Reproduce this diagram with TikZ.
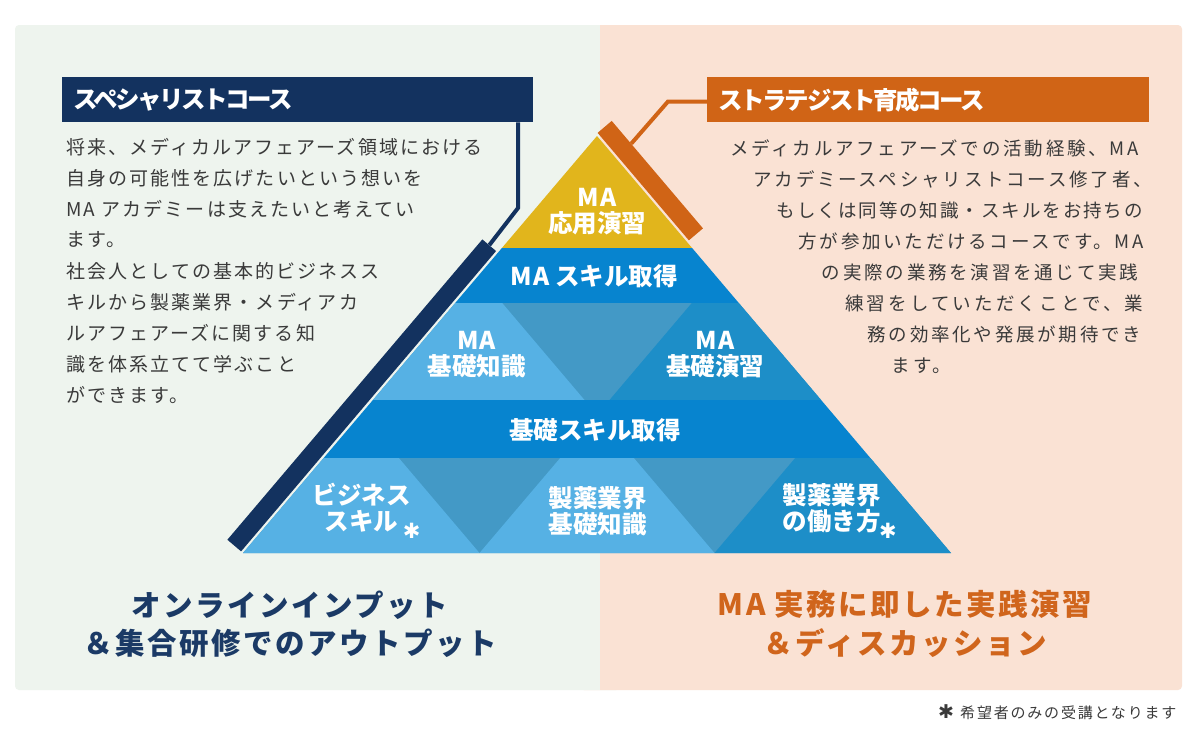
\documentclass[tikz,border=0pt]{standalone}
\usepackage{fontspec}
\usetikzlibrary{calc}
\newfontfamily\jp{Noto Sans CJK JP}
\newfontfamily\jpMA[LetterSpace=5]{Noto Sans CJK JP}
\newfontfamily\jpbodyL[LetterSpace=11]{Noto Sans CJK JP}
\newfontfamily\jpbodyR[LetterSpace=15]{Noto Sans CJK JP}
\newfontfamily\jpbodyRt[LetterSpace=10.5]{Noto Sans CJK JP}
\newfontfamily\jpbodyRw[LetterSpace=17]{Noto Sans CJK JP}
\newfontfamily\jphead[LetterSpace=-10]{Noto Sans CJK JP}
\newfontfamily\jpbig[LetterSpace=8.5]{Noto Sans CJK JP}
\newfontfamily\jpnote[LetterSpace=12]{Noto Sans CJK JP}
\newfontfamily\dingfont{DejaVu Sans}
\definecolor{bgL}{HTML}{EEF4EE}
\definecolor{bgR}{HTML}{FAE2D4}
\definecolor{navy}{HTML}{13325F}
\definecolor{orng}{HTML}{D06416}
\definecolor{pyel}{HTML}{E1B51C}
\definecolor{pband}{HTML}{0784CF}
\definecolor{plight}{HTML}{56B1E4}
\definecolor{pmute}{HTML}{4399C6}
\definecolor{pdark}{HTML}{1D8EC8}
\definecolor{txtgray}{HTML}{3A3A3A}
\definecolor{btmnavy}{HTML}{1B3A66}
\definecolor{btmorng}{HTML}{D0651C}
\tikzset{
  bodyL/.style={anchor=west, inner sep=0pt, text=txtgray, font={\jpbodyL\fontsize{19}{20}\selectfont}},
  bodyR/.style={anchor=west, inner sep=0pt, text=txtgray, font={\jpbodyR\fontsize{18.5}{20}\selectfont}},
  plabel/.style={text=white, align=center, inner sep=0pt, font={\jp\bfseries\fontsize{24.5}{26}\selectfont}},
  hdrbox/.style={anchor=north west, minimum height=45pt, inner ysep=0pt, align=left, text=white, font={\jphead\bfseries\fontsize{24.5}{26}\selectfont}},
  barbox/.style={inner sep=0pt, minimum height=18pt},
  conline/.style={line width=4pt, line join=miter},
  bigtxt/.style={align=center, inner sep=0pt, font={\jpbig\bfseries\fontsize{29.5}{38.5}\selectfont}},
  notetxt/.style={anchor=west, inner sep=0pt, text=txtgray, font={\jpnote\fontsize{15}{16}\selectfont}}
}
\newcommand{\myast}[1]{\rlap{\hspace{#1}\raisebox{-7.5pt}{\dingfont\fontsize{21}{21}\selectfont ✱}}}
\newcommand{\MA}{{\jpMA\bfseries MA}}
\begin{document}
\begin{tikzpicture}[x=1pt,y=-1pt]
\useasboundingbox (0,0) rectangle (1198,734);
\fill[white] (0,0) rectangle (1198,734);
% panels
\fill[bgL, rounded corners=4pt] (15,25) rectangle (620,690);
\fill[bgR, rounded corners=4pt] (580,25) rectangle (1182,690);
\fill[bgL] (580,25) rectangle (600,690);
% pyramid
\fill[pyel] (597,136) -- (692.1,248) -- (501.9,248) -- cycle;
\fill[pband] (501.9,248) -- (692.1,248) -- (738.8,303) -- (455.2,303) -- cycle;
\fill[pmute] (455.2,303) -- (738.8,303) -- (821.1,400) -- (372.9,400) -- cycle;
\fill[plight] (455.2,303) -- (502.2,303) -- (584.5,400) -- (372.9,400) -- cycle;
\fill[pdark] (691.8,303) -- (738.8,303) -- (821.1,400) -- (609.5,400) -- cycle;
\fill[pband] (372.9,400) -- (821.1,400) -- (870.35,458) -- (323.65,458) -- cycle;
\fill[pmute] (323.65,458) -- (870.35,458) -- (951,553) -- (243,553) -- cycle;
\fill[plight] (323.65,458) -- (398.85,458) -- (479.5,553) -- (243,553) -- cycle;
\fill[plight] (560.15,458) -- (633.85,458) -- (714.5,553) -- (479.5,553) -- cycle;
\fill[pdark] (795.15,458) -- (870.35,458) -- (951,553) -- (714.5,553) -- cycle;
% bars
\node[barbox, fill=navy, rotate=49.67, minimum width=394pt] (nbar) at (361.72,395.38) {};
\node[barbox, fill=orng, rotate=-49.67, minimum width=141pt, minimum height=18.5pt] (obar) at (650.29,180.62) {};
% headers
\node[hdrbox, fill=navy, minimum width=471pt, inner xsep=11pt, text width=449pt] (nhead) at (62,77) {スペシャリストコース};
\node[hdrbox, fill=orng, minimum width=442pt, inner xsep=11.6pt, text width=418.8pt] (ohead) at (707,77) {ストラテジスト育成コース};
% connectors
\coordinate (nelbow) at (518,208);
\draw[conline, navy] (nelbow |- nhead.south) -- (nelbow) -- (nbar.east);
\coordinate (oelbow) at (668,101.5);
\draw[conline, orng] ($(obar.north)!0.573!(obar.north west)$) -- (oelbow) -- (oelbow -| ohead.west);
% pyramid labels
\node[plabel] (l1) at (597,211.5) {\MA\\応用演習};
\node[plabel] (l2) at (594,276) {\MA\ スキル取得};
\node[plabel] (l3) at (476.5,354.5) {\MA\\基礎知識};
\node[plabel] (l4) at (715,354.5) {\MA\\基礎演習};
\node[plabel] (l5) at (595,430) {基礎スキル取得};
\node[plabel] (l6) at (361.5,511) {ビジネス\\スキル\myast{4.6pt}};
\node[plabel] (l7) at (597.5,511) {製薬業界\\基礎知識};
\node[plabel] (l8) at (831.5,511) {製薬業界\\の働き方\myast{-1.3pt}};
% left body
\node[bodyL] (a1) at (66,147) {将来、メディカルアフェアーズ領域における};
\node[bodyL] (a2) at (66,178) {自身の可能性を広げたいという想いを};
\node[bodyL] (a3) at (66,209) {MA アカデミーは支えたいと考えてい};
\node[bodyL] (a4) at (66,240) {ます。};
\node[bodyL] (a5) at (66,271.5) {社会人としての基本的ビジネスス};
\node[bodyL] (a6) at (66,302.5) {キルから製薬業界・メディアカ};
\node[bodyL] (a7) at (66,333.5) {ルアフェアーズに関する知};
\node[bodyL] (a8) at (66,364.5) {識を体系立てて学ぶこと};
\node[bodyL] (a9) at (66,395.5) {ができます。};
% right body
\node[bodyR] (b1) at (730,148) {メディカルアフェアーズでの活動経験、MA};
\node[bodyR] (b2) at (753.3,179) {アカデミースペシャリストコース修了者、};
\node[bodyR, font={\jpbodyRt\fontsize{18.5}{20}\selectfont}] (b3) at (776.7,210) {もしくは同等の知識・スキルをお持ちの};
\node[bodyR] (b4) at (798.3,241.5) {方が参加いただけるコースです。MA};
\node[bodyR] (b5) at (821.7,272.5) {の実際の業務を演習を通じて実践};
\node[bodyR, font={\jpbodyRw\fontsize{18.5}{20}\selectfont}] (b6) at (845,303.5) {練習をしていただくことで、業};
\node[bodyR] (b7) at (867.3,334.5) {務の効率化や発展が期待でき};
\node[bodyR] (b8) at (891.7,365.5) {ます。};
% bottom texts
\node[bigtxt, text=btmnavy] (c1) at (290,624) {オンラインインプット\\＆集合研修でのアウトプット};
\node[bigtxt, text=btmorng] (c2) at (905,624) {MA 実務に即した実践演習\\＆ディスカッション};
% footnote
\node[notetxt] (fn) at (938,712) {\makebox[22pt][l]{\dingfont\fontsize{19}{19}\selectfont ✱}希望者のみの受講となります};
\end{tikzpicture}
\end{document}
